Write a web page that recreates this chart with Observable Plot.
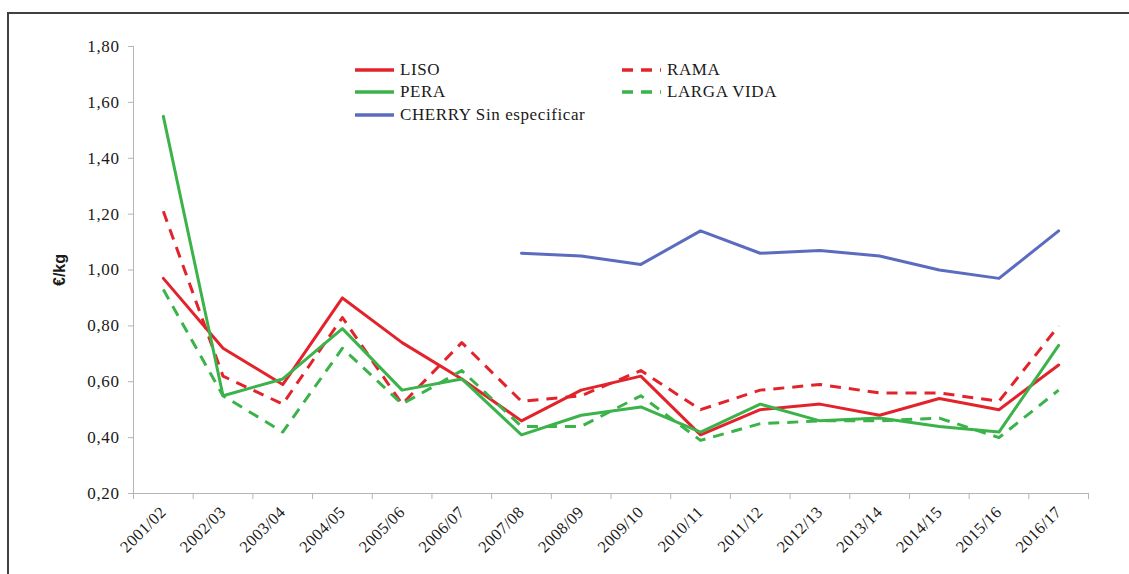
<!DOCTYPE html>
<html>
<head>
<meta charset="utf-8">
<script src="https://cdn.jsdelivr.net/npm/d3@7"></script>
<script src="https://cdn.jsdelivr.net/npm/@observablehq/plot@0.6"></script>
<style>
  html, body { margin: 0; padding: 0; background: #fff; }
  #wrap { position: relative; width: 1129px; height: 574px; overflow: hidden; }
  #frame { position: absolute; left: 7px; top: 12px; width: 1200px; height: 700px;
           border-top: 2px solid #404040; border-left: 2px solid #404040; box-sizing: border-box; pointer-events: none; }
  #legend { position: absolute; left: 0; top: 0; font-family: "Liberation Serif", "Times New Roman", serif;
            font-size: 17px; letter-spacing: 0.6px; color: #1a1a1a; }
  .item { position: absolute; display: flex; align-items: center; white-space: nowrap; }
  .item svg { margin-right: 6px; }
  #chart svg text { font-family: "Liberation Serif", "Times New Roman", serif; }
  #chart g[aria-label="y-axis tick label"] text { font-size: 17px; letter-spacing: 0.6px; }
  #chart g[aria-label="x-axis tick label"] text { font-size: 16.5px; letter-spacing: 0.4px; }
  #chart g[aria-label="y-axis label"] text { font-family: "Liberation Sans", Arial, sans-serif; font-size: 16px; font-weight: bold; }
</style>
</head>
<body>
<div id="wrap">
  <div id="chart"></div>
  <div id="legend"></div>
  <div id="frame"></div>
</div>
<script>
const categories = ["2001/02","2002/03","2003/04","2004/05","2005/06","2006/07","2007/08","2008/09",
  "2009/10","2010/11","2011/12","2012/13","2013/14","2014/15","2015/16","2016/17"];
const liso      = [0.97,0.72,0.59,0.90,0.74,0.61,0.46,0.57,0.62,0.41,0.50,0.52,0.48,0.54,0.50,0.66];
const rama      = [1.21,0.62,0.52,0.83,0.52,0.74,0.53,0.55,0.64,0.50,0.57,0.59,0.56,0.56,0.53,0.80];
const pera      = [1.55,0.55,0.61,0.79,0.57,0.61,0.41,0.48,0.51,0.42,0.52,0.46,0.47,0.44,0.42,0.73];
const largaVida = [0.93,0.55,0.42,0.72,0.52,0.64,0.44,0.44,0.55,0.39,0.45,0.46,0.46,0.47,0.40,0.57];
const cherry    = [null,null,null,null,null,null,1.06,1.05,1.02,1.14,1.06,1.07,1.05,1.00,0.97,1.14];
const yTicks = [0.2,0.4,0.6,0.8,1.0,1.2,1.4,1.6,1.8];

const RED = "#e3232c", GREEN = "#3bb34a", BLUE = "#5b6cbf";
const seriesDefs = [
  {name: "LISO", values: liso, color: RED, dash: null},
  {name: "RAMA", values: rama, color: RED, dash: "11,8"},
  {name: "PERA", values: pera, color: GREEN, dash: null},
  {name: "LARGA VIDA", values: largaVida, color: GREEN, dash: "11,8"},
  {name: "CHERRY Sin especificar", values: cherry, color: BLUE, dash: null}
];

const marks = [];
marks.push(Plot.ruleX([-0.5], {stroke: "#b5b5b5", strokeWidth: 1}));
marks.push(Plot.ruleY([0.2], {stroke: "#b5b5b5", strokeWidth: 1}));
marks.push(Plot.axisY({ticks: yTicks, tickFormat: d => d.toFixed(2).replace(".", ","), tickSize: 5, tickPadding: 9,
  stroke: "#b5b5b5", fill: "#1a1a1a",
  label: "€/kg", labelAnchor: "center", labelOffset: 80, labelArrow: "none"}));
marks.push(Plot.axisX({ticks: d3.range(17).map(i => i - 0.5), tickFormat: () => "", tickSize: 6, stroke: "#b5b5b5", label: null}));
marks.push(Plot.axisX({ticks: d3.range(categories.length), tickFormat: i => categories[i], tickSize: 0,
  tickRotate: -45, tickPadding: 16, fill: "#1a1a1a", label: null}));

for (const s of seriesDefs) {
  const data = s.values.map((v, i) => ({i, v})).filter(d => d.v != null);
  marks.push(Plot.lineY(data, {x: "i", y: "v", stroke: s.color, strokeWidth: 3,
    strokeDasharray: s.dash || undefined, strokeLinejoin: "round", strokeLinecap: s.dash ? "butt" : "round"}));
}

const chart = Plot.plot({
  width: 1129, height: 574,
  marginLeft: 133, marginRight: 41, marginTop: 46, marginBottom: 81,
  x: {type: "linear", domain: [-0.5, 15.5], axis: null},
  y: {domain: [0.2, 1.8], axis: null},
  style: {background: "transparent"},
  marks
});
document.getElementById("chart").appendChild(chart);

const legendPos = [
  {left: 355, top: 70}, {left: 622, top: 70},
  {left: 355, top: 92}, {left: 622, top: 92},
  {left: 355, top: 115}
];
const legend = document.getElementById("legend");
seriesDefs.forEach((s, k) => {
  const el = document.createElement("div");
  el.className = "item";
  el.style.left = legendPos[k].left + "px";
  el.style.top = (legendPos[k].top - 10) + "px";
  el.style.height = "20px";
  const dash = s.dash ? `stroke-dasharray="11,8"` : "";
  el.innerHTML = `<svg width="39" height="6"><line x1="0" y1="3" x2="39" y2="3" stroke="${s.color}" stroke-width="3.5" ${dash}/></svg><span>${s.name}</span>`;
  legend.appendChild(el);
});
</script>
</body>
</html>
